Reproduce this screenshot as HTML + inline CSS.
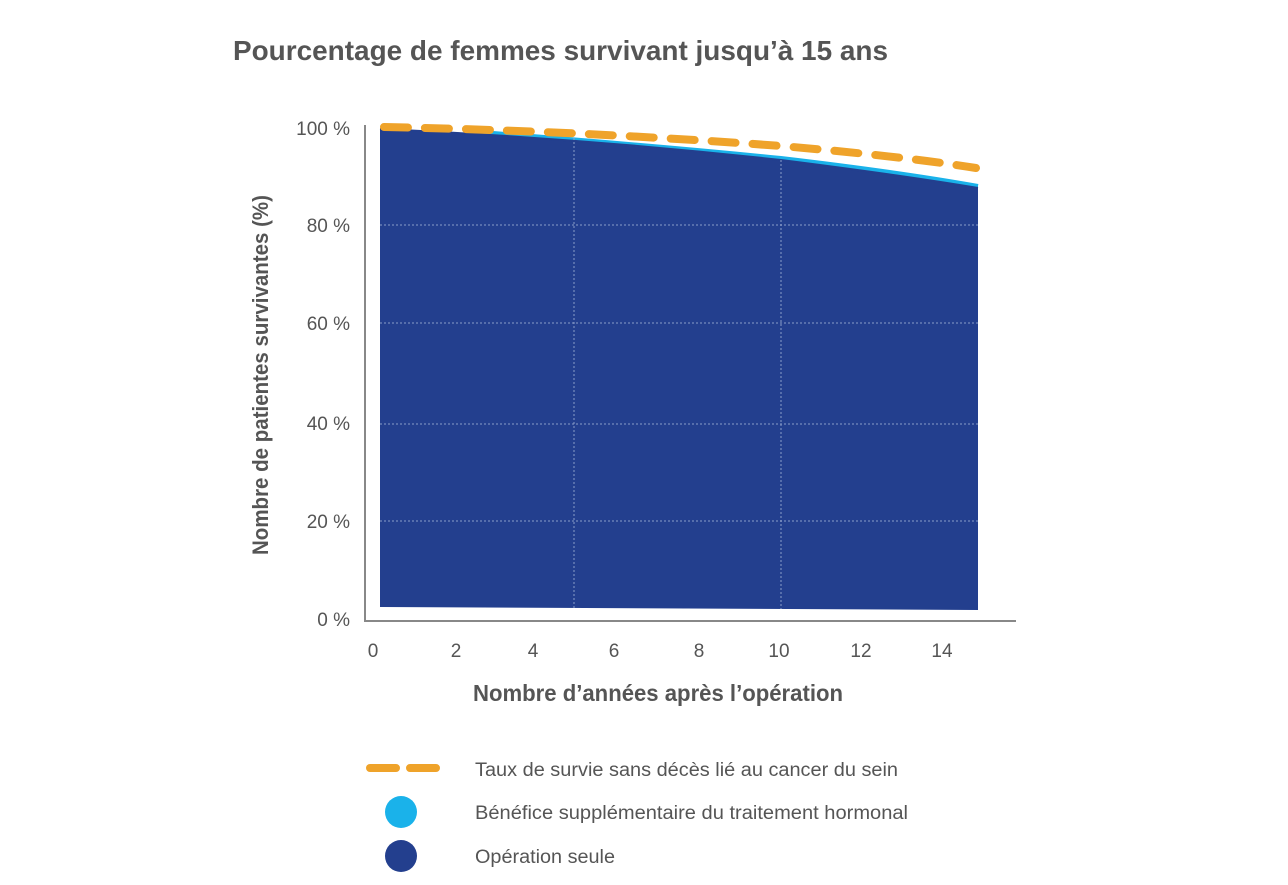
<!DOCTYPE html>
<html><head><meta charset="utf-8"><style>
body{margin:0;background:#fff;}
text{font-family:"Liberation Sans",sans-serif;}
</style></head><body>
<svg width="1288" height="880" viewBox="0 0 1288 880" xmlns="http://www.w3.org/2000/svg">
<text x="233" y="60" font-size="28" font-weight="bold" fill="#555" textLength="655" lengthAdjust="spacingAndGlyphs">Pourcentage de femmes survivant jusqu’à 15 ans</text>
<path d="M380,129 Q580,136 781,158 Q900,172 978,186 L978,610 L380,607 Z" fill="#233f8e"/>
<path d="M480,132 Q650,145 781,158 Q900,172 978,186" fill="none" stroke="#1ab2ea" stroke-width="4"/>
<path d="M380,129 Q580,138 781,160 Q900,175 978,188" fill="none" stroke="#233f8e" stroke-width="2"/>
<g stroke="#8a9cc8" stroke-width="1" stroke-dasharray="2,2">
<line x1="380" y1="225" x2="978" y2="225"/><line x1="380" y1="323" x2="978" y2="323"/>
<line x1="380" y1="424" x2="978" y2="424"/><line x1="380" y1="521" x2="978" y2="521"/>
<line x1="574" y1="138" x2="574" y2="608"/><line x1="781" y1="160" x2="781" y2="609"/>
</g>
<path d="M384,127 Q580,131 781,146 Q900,156 976,168" fill="none" stroke="#efa32a" stroke-width="8" stroke-linecap="round" stroke-dasharray="24,17"/>
<line x1="365" y1="125" x2="365" y2="622" stroke="#888" stroke-width="2"/>
<line x1="364" y1="621" x2="1016" y2="621" stroke="#888" stroke-width="2"/>
<g font-size="19" fill="#555" text-anchor="end">
<text x="350" y="135">100 %</text><text x="350" y="232">80 %</text><text x="350" y="330">60 %</text>
<text x="350" y="430">40 %</text><text x="350" y="528">20 %</text><text x="350" y="626">0 %</text>
</g>
<g font-size="19" fill="#555" text-anchor="middle">
<text x="373" y="657">0</text><text x="456" y="657">2</text><text x="533" y="657">4</text><text x="614" y="657">6</text>
<text x="699" y="657">8</text><text x="779" y="657">10</text><text x="861" y="657">12</text><text x="942" y="657">14</text>
</g>
<text x="473" y="701" font-size="23" font-weight="bold" fill="#555" textLength="370" lengthAdjust="spacingAndGlyphs">Nombre d’années après l’opération</text>
<text transform="translate(268,555) rotate(-90)" font-size="22" font-weight="bold" fill="#555" textLength="360" lengthAdjust="spacingAndGlyphs">Nombre de patientes survivantes (%)</text>
<line x1="370" y1="768" x2="440" y2="768" stroke="#efa32a" stroke-width="8" stroke-dasharray="26,14" stroke-linecap="round"/>
<circle cx="401" cy="812" r="16" fill="#1ab2ea"/>
<circle cx="401" cy="856" r="16" fill="#233f8e"/>
<g font-size="19" fill="#555">
<text x="475" y="776" textLength="423" lengthAdjust="spacingAndGlyphs">Taux de survie sans décès lié au cancer du sein</text>
<text x="475" y="819" textLength="433" lengthAdjust="spacingAndGlyphs">Bénéfice supplémentaire du traitement hormonal</text>
<text x="475" y="863" textLength="140" lengthAdjust="spacingAndGlyphs">Opération seule</text>
</g>
</svg>
</body></html>
